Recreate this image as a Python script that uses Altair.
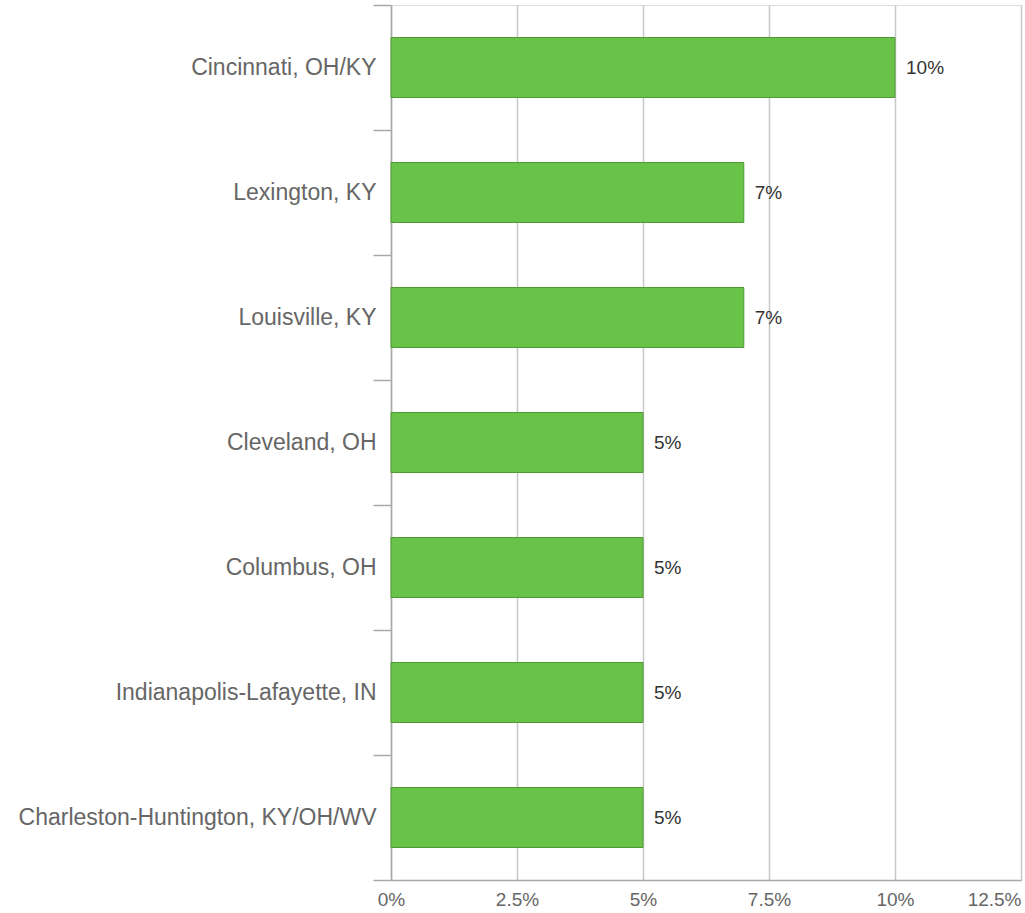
import altair as alt
import pandas as pd

cities = [
    "Cincinnati, OH/KY",
    "Lexington, KY",
    "Louisville, KY",
    "Cleveland, OH",
    "Columbus, OH",
    "Indianapolis-Lafayette, IN",
    "Charleston-Huntington, KY/OH/WV",
]
shares = [10, 7, 7, 5, 5, 5, 5]
x_ticks = [0, 2.5, 5, 7.5, 10, 12.5]

df = pd.DataFrame({"city": cities, "share": shares})
df["label"] = [f"{v:g}%" for v in shares]

FONT = "Liberation Sans"

y_enc = alt.Y(
    "city:N",
    sort=cities,
    title=None,
    scale=alt.Scale(paddingInner=0, paddingOuter=0),
    axis=alt.Axis(
        tickBand="extent",
        tickSize=18,
        tickColor="#a8a8a8",
        tickWidth=1.5,
        domainColor="#a8a8a8",
        domainWidth=1.5,
        labelFont=FONT,
        labelFontSize=23,
        labelColor="#666666",
        labelPadding=-3,
        grid=False,
        labelLimit=400,
    ),
)

x_enc = alt.X(
    "share:Q",
    title=None,
    scale=alt.Scale(domain=[0, 12.5], nice=False),
    axis=alt.Axis(
        values=x_ticks,
        labelExpr="datum.value + '%'",
        ticks=False,
        domainColor="#a8a8a8",
        domainWidth=1.5,
        gridColor="#c8c8c8",
        gridWidth=1.5,
        labelFont=FONT,
        labelFontSize=19,
        labelColor="#666666",
        labelPadding=10,
        labelAlign=alt.condition("datum.value == 12.5", alt.value("right"), alt.value("center")),
    ),
)

bars = alt.Chart(df).mark_bar(
    color="#68c348", stroke="#4f9a35", strokeWidth=1, height=alt.RelativeBandSize(0.48)
).encode(x=x_enc, y=y_enc)

labels = alt.Chart(df).mark_text(
    align="left", baseline="middle", dx=11, font=FONT, fontSize=19, color="#333333"
).encode(x="share:Q", y=alt.Y("city:N", sort=cities), text="label:N")

chart = (
    alt.layer(bars, labels)
    .properties(
        width=630,
        height=875,
        autosize=alt.AutoSizeParams(type="none"),
        padding={"left": 391, "top": 5, "right": 4, "bottom": 33},
    )
    .configure_view(stroke=None)
    .configure(background="white")
)

chart.save("out.html", embed_options={"renderer": "svg", "actions": False})
